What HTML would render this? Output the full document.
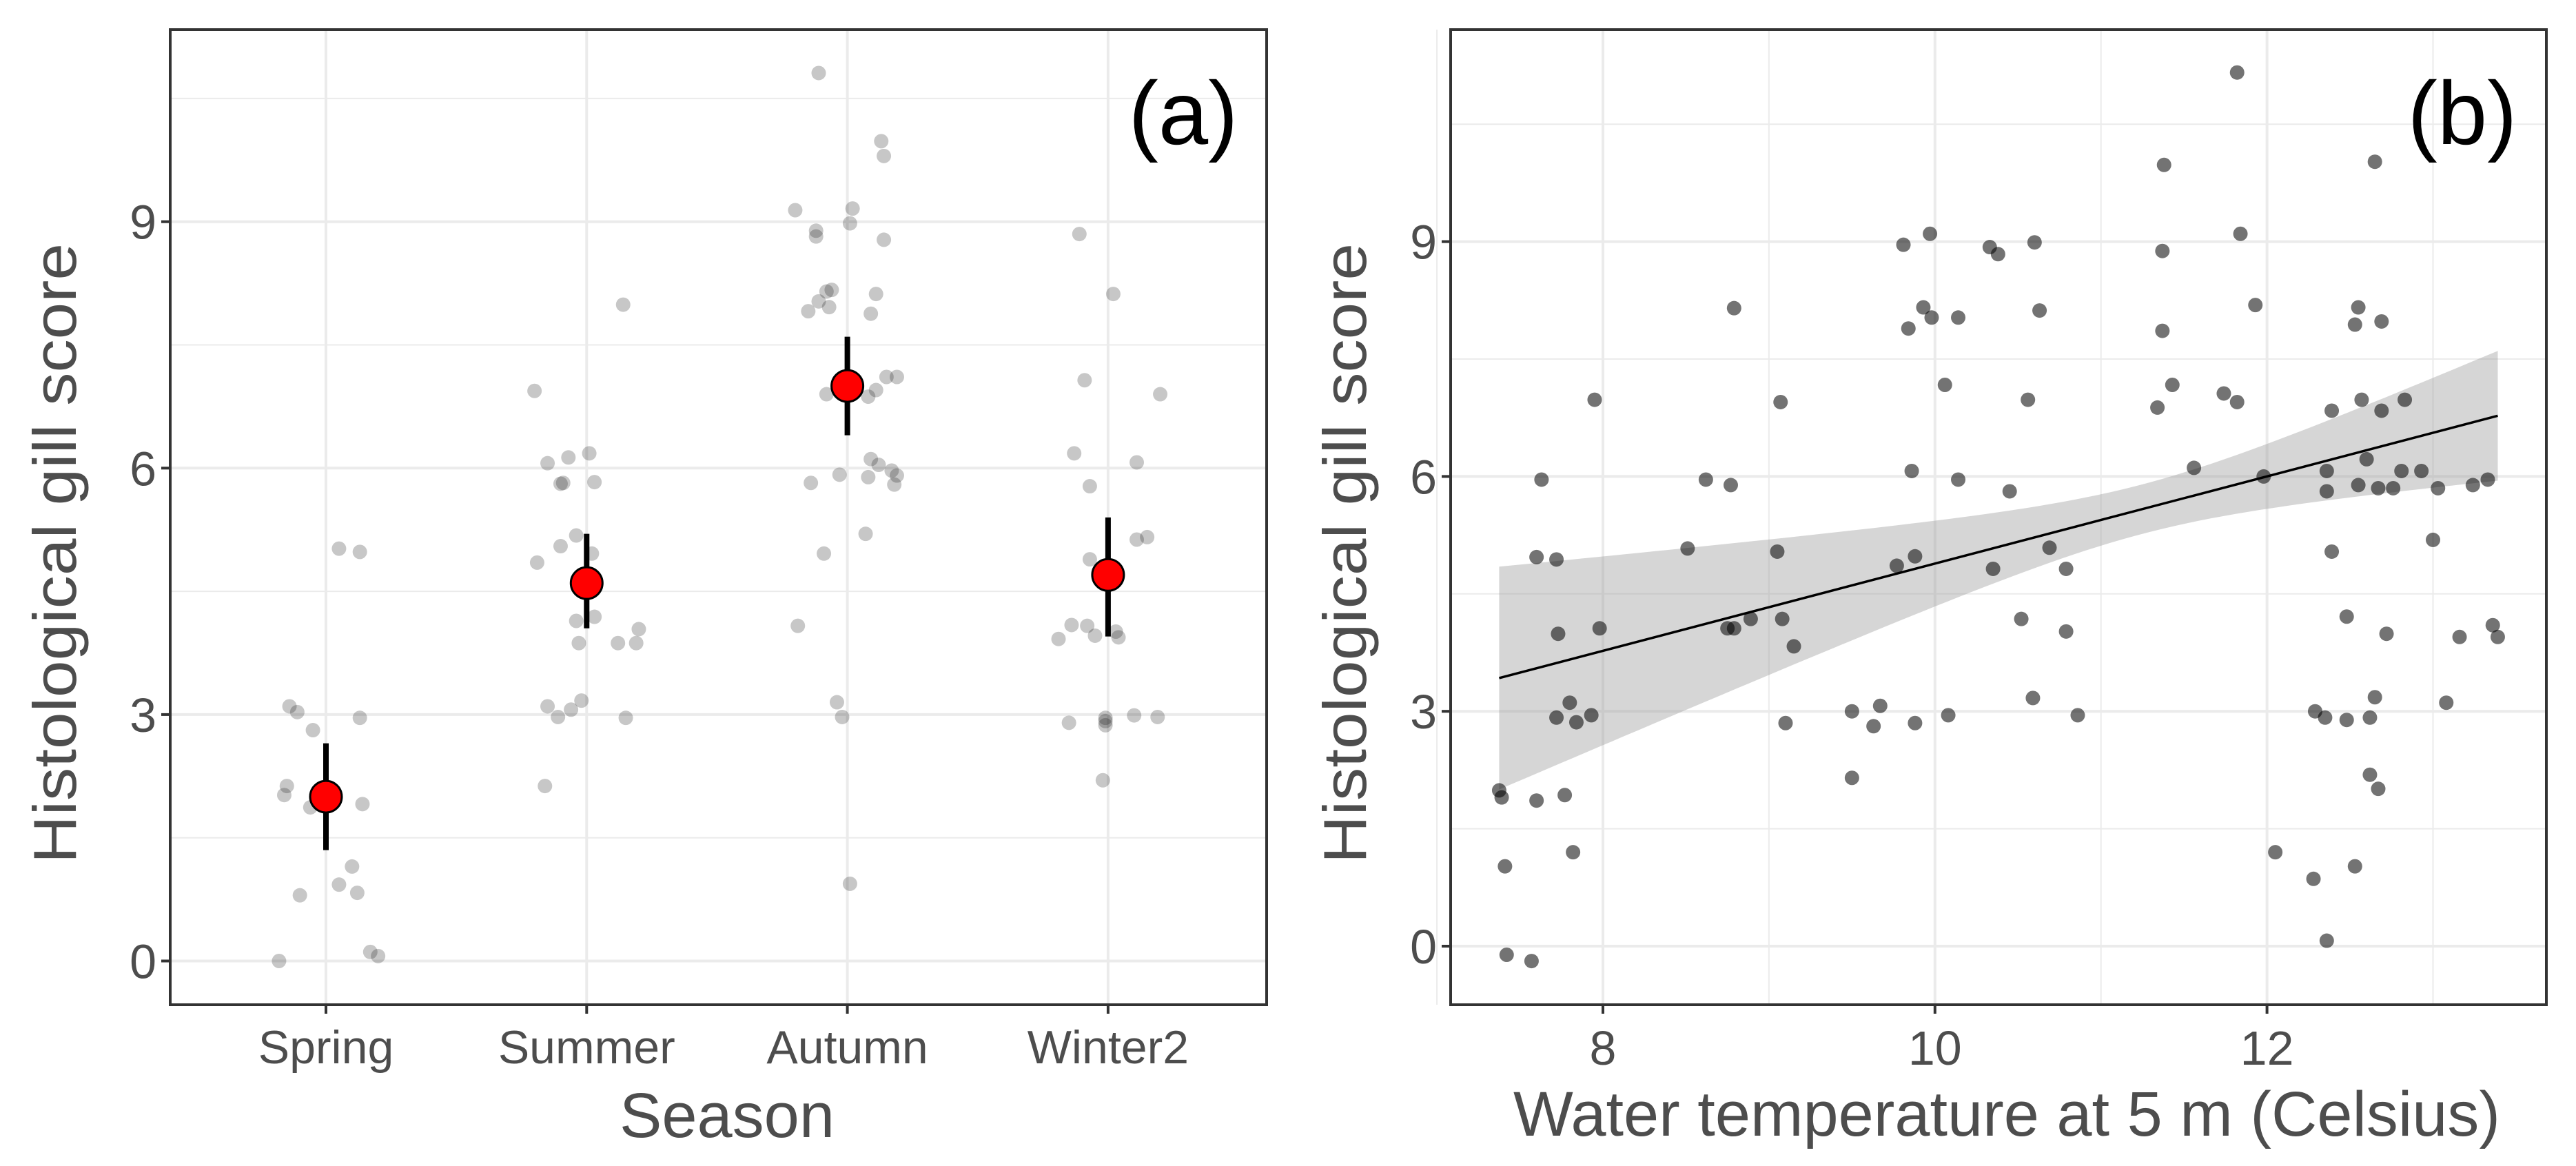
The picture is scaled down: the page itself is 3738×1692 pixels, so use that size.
<!DOCTYPE html>
<html><head><meta charset="utf-8"><title>Gill score charts</title>
<style>
html,body{margin:0;padding:0;background:#fff;}
svg{display:block;}
text{font-family:"Liberation Sans",sans-serif;}
</style></head>
<body>
<svg id="chart" width="3738" height="1692" viewBox="0 0 3738 1692" xmlns="http://www.w3.org/2000/svg">
  <rect width="3738" height="1692" fill="#fff"/>
  <g id="panelA"></g>
  <g id="panelB"></g>
</svg>
<script>
// ---------- Panel A data ----------
const seasons = ["Spring","Summer","Autumn","Winter2"];
const seasonMeans = [2.0, 4.6, 7.0, 4.7];
const seasonLower = [1.35, 4.05, 6.4, 3.95];
const seasonUpper = [2.65, 5.2, 7.6, 5.4];
const aTicks = [0,3,6,9];
const aMinor = [1.5,4.5,7.5,10.5];
// raw points: season index, jitter (category units), score
const ptSeason = [0,0,0,0,0,0,0,0,0,0,0,0,0,0,0,0,0,
 1,1,1,1,1,1,1,1,1,1,1,1,1,1,1,1,1,1,1,1,1,1,1,1,
 2,2,2,2,2,2,2,2,2,2,2,2,2,2,2,2,2,2,2,2,2,2,2,2,2,2,2,2,2,2,2,2,2,2,2,
 3,3,3,3,3,3,3,3,3,3,3,3,3,3,3,3,3,3,3,3,3,3,3];
const ptJitter = [-0.18,0.05,0.13,-0.14,-0.11,-0.05,0.13,-0.15,-0.16,-0.06,0.14,0.10,0.05,0.12,-0.10,0.17,0.20,
 -0.2,-0.15,-0.07,0.01,-0.10,-0.09,0.03,-0.04,-0.10,-0.19,0.02,-0.04,0.03,-0.03,0.12,0.19,0.20,-0.15,-0.11,-0.06,-0.02,0.15,-0.16,0.14,
 -0.11,0.13,0.14,-0.2,-0.12,-0.12,0.02,0.01,0.14,-0.06,-0.08,-0.11,-0.15,-0.07,0.11,0.09,0.15,0.19,-0.08,0.11,0.08,0.09,0.12,0.17,0.19,0.18,-0.03,0.08,-0.14,0.07,-0.09,-0.19,-0.04,-0.02,0.01,
 -0.11,0.02,-0.09,0.2,-0.13,0.11,-0.07,0.11,0.15,-0.07,-0.19,-0.14,-0.08,-0.05,0.03,0.04,-0.15,-0.01,-0.01,-0.01,0.10,0.19,-0.02];
const ptScore = [0,5.02,4.98,3.1,3.03,2.81,2.96,2.13,2.02,1.87,1.91,1.15,0.93,0.83,0.8,0.11,0.06,
 6.94,6.06,6.13,6.18,5.81,5.82,5.83,5.18,5.05,4.85,4.96,4.14,4.19,3.87,3.87,3.87,4.04,3.1,2.97,3.06,3.17,2.96,2.13,7.99,
 10.81,9.98,9.8,9.14,8.89,8.82,9.16,8.98,8.78,8.17,8.15,8.03,7.91,7.96,8.12,7.88,7.11,7.11,6.9,6.95,6.87,6.11,6.04,5.97,5.91,5.8,5.92,5.89,5.82,5.2,4.96,4.08,3.15,2.97,0.94,
 8.85,8.12,7.07,6.9,6.18,6.07,5.78,5.13,5.16,4.89,3.92,4.09,4.08,3.96,4.01,3.94,2.9,2.96,2.87,2.92,2.99,2.97,2.2];

// ---------- Panel B data ----------
const tempX = [7.375,7.39,7.41,7.42,7.57,7.60,7.60,7.63,7.72,7.73,7.72,7.80,7.84,7.77,7.82,7.93,7.95,7.98,
 8.51,8.62,8.77,8.79,8.75,8.79,8.89,9.05,9.07,9.08,9.10,9.15,9.50,9.50,9.63,9.67,9.77,9.81,9.84,9.86,9.88,9.88,
 9.93,9.97,9.98,10.06,10.08,10.14,10.14,10.33,10.38,10.35,10.45,10.52,10.56,10.59,10.60,10.63,10.69,10.79,10.79,10.86,
 11.34,11.37,11.37,11.38,11.43,11.56,11.74,11.82,11.82,11.84,11.93,11.98,12.05,12.28,12.29,12.35,12.36,12.36,12.36,
 12.39,12.39,12.48,12.48,12.53,12.53,12.55,12.55,12.57,12.60,12.62,12.62,12.65,12.65,12.67,12.67,12.69,12.69,12.72,
 12.76,12.81,12.83,12.93,13.00,13.03,13.08,13.16,13.24,13.33,13.36,13.39];
const gillY = [1.99,1.90,1.02,-0.11,-0.19,1.86,4.97,5.96,4.94,3.99,2.92,3.11,2.86,1.93,1.20,2.95,6.98,4.06,
 5.08,5.96,5.89,8.15,4.06,4.06,4.18,5.04,6.95,4.18,2.85,3.83,3.00,2.15,2.81,3.07,4.86,8.96,7.89,6.07,4.98,2.85,
 8.16,9.10,8.03,7.17,2.95,8.03,5.96,8.93,8.84,4.82,5.81,4.18,6.98,3.17,8.99,8.12,5.09,4.82,4.02,2.95,
 6.88,7.86,8.88,9.98,7.17,6.11,7.06,6.95,11.16,9.10,8.19,6.00,1.20,0.86,3.00,2.92,0.07,6.07,5.81,
 6.84,5.04,4.21,2.89,1.02,7.94,8.16,5.89,6.98,6.22,2.92,2.19,3.18,10.02,2.01,5.85,6.84,7.98,3.99,
 5.85,6.07,6.98,6.07,5.19,5.85,3.11,3.95,5.89,5.96,4.10,3.95];
const fitIntercept = [-0.683];
const fitSlope = [0.557];
const bandCenter = [11.25];   // x where CI is narrowest
const bandA = [0.316];        // half-width at centre
const bandB = [0.358];        // growth of half-width per unit x
const bXTicks = [8,10,12];
const bXMinor = [7,9,11,13];
const bYTicks = [0,3,6,9];
const bYMinor = [1.5,4.5,7.5,10.5];

// ---------- helpers ----------
const NS = "http://www.w3.org/2000/svg";
function mk(parent, tag, attrs){
  const el = document.createElementNS(NS, tag);
  for (const k in attrs) el.setAttribute(k, attrs[k]);
  parent.appendChild(el);
  return el;
}
const gridCol = "#ebebeb", tickCol = "#4d4d4d", axisCol = "#333333";

// ---------- Panel A ----------
(function(){
  const g = document.getElementById('panelA');
  const L=247, R=1838, T=43, B=1458;
  const y = v => 1394.5 - v*119.2;
  const x = i => 473 + i*378.3;
  aMinor.forEach(v=>{ const l=mk(g,'line',{x1:L,x2:R,y1:y(v),y2:y(v),stroke:gridCol,'stroke-width':2});
      });
  aTicks.forEach(v=>{ const l=mk(g,'line',{x1:L,x2:R,y1:y(v),y2:y(v),stroke:gridCol,'stroke-width':4});
      });
  seasons.forEach((s,i)=>{ const l=mk(g,'line',{x1:x(i),x2:x(i),y1:T,y2:B,stroke:gridCol,'stroke-width':4});
      });
  ptScore.forEach((v,k)=>{
    const c=mk(g,'circle',{cx:x(ptSeason[k]+ptJitter[k]),cy:y(v),r:10.5,fill:'#000','fill-opacity':0.22});
     
  });
  seasons.forEach((s,i)=>{
    const e=mk(g,'line',{x1:x(i),x2:x(i),y1:y(seasonLower[i]),y2:y(seasonUpper[i]),stroke:'#000','stroke-width':8});
     
    const m=mk(g,'circle',{cx:x(i),cy:y(seasonMeans[i]),r:23,fill:'#ff0000',stroke:'#000','stroke-width':3});
     
  });
  const fr=mk(g,'rect',{x:L,y:T,width:R-L,height:B-T,fill:'none',stroke:axisCol,'stroke-width':4});
   
  aTicks.forEach(v=>{
    const t=mk(g,'line',{x1:L-13,x2:L,y1:y(v),y2:y(v),stroke:axisCol,'stroke-width':4});
     
    const tx=mk(g,'text',{x:L-20,y:y(v)+25,'text-anchor':'end','font-size':70,fill:tickCol});
    tx.textContent=v;
     
  });
  seasons.forEach((s,i)=>{
    const t=mk(g,'line',{x1:x(i),x2:x(i),y1:B,y2:B+13,stroke:axisCol,'stroke-width':4});
     
    const tx=mk(g,'text',{x:x(i),y:1543,'text-anchor':'middle','font-size':68,fill:tickCol});
    tx.textContent=s;
     
  });
  const xt=mk(g,'text',{x:1055,y:1650,'text-anchor':'middle','font-size':92,fill:tickCol});
  xt.textContent='Season';
   
  const yt=mk(g,'text',{x:0,y:0,'text-anchor':'middle','font-size':88,fill:tickCol,transform:'translate(110,803) rotate(-90)',textLength:900,lengthAdjust:'spacingAndGlyphs'});
  yt.textContent='Histological gill score';
   
  const pl=mk(g,'text',{x:1717,y:209,'text-anchor':'middle','font-size':130,fill:'#000'});
  pl.textContent='(a)';
   
})();

// ---------- Panel B ----------
(function(){
  const g = document.getElementById('panelB');
  const L=2105, R=3695, T=43, B=1458;
  const x = v => 2326 + (v-8)*240.9;
  const y = v => 1373 - v*113.6;
  bYMinor.forEach(v=>{ const l=mk(g,'line',{x1:L,x2:R,y1:y(v),y2:y(v),stroke:gridCol,'stroke-width':2});
      });
  bXMinor.forEach(v=>{ const l=mk(g,'line',{x1:x(v),x2:x(v),y1:T,y2:B,stroke:gridCol,'stroke-width':2});
      });
  bYTicks.forEach(v=>{ const l=mk(g,'line',{x1:L,x2:R,y1:y(v),y2:y(v),stroke:gridCol,'stroke-width':4});
      });
  bXTicks.forEach(v=>{ const l=mk(g,'line',{x1:x(v),x2:x(v),y1:T,y2:B,stroke:gridCol,'stroke-width':4});
      });
  // fit & band
  const xmin=Math.min(...tempX), xmax=Math.max(...tempX);
  const xs=[]; for(let i=0;i<=80;i++) xs.push(xmin+(xmax-xmin)*i/80);
  const fit = v => fitIntercept[0]+fitSlope[0]*v;
  const half = v => Math.sqrt(bandA[0]*bandA[0]+bandB[0]*bandB[0]*(v-bandCenter[0])*(v-bandCenter[0]));
  let d='';
  xs.forEach((v,i)=>{ d+=(i?'L':'M')+x(v).toFixed(1)+','+y(fit(v)+half(v)).toFixed(1); });
  xs.slice().reverse().forEach(v=>{ d+='L'+x(v).toFixed(1)+','+y(fit(v)-half(v)).toFixed(1); });
  d+='Z';
  const band=mk(g,'path',{d:d,fill:'#999999','fill-opacity':0.4});
   
  tempX.forEach((v,k)=>{
    const c=mk(g,'circle',{cx:x(v),cy:y(gillY[k]),r:10.5,fill:'#000','fill-opacity':0.55});
     
  });
  const ln=mk(g,'line',{x1:x(xmin),y1:y(fit(xmin)),x2:x(xmax),y2:y(fit(xmax)),stroke:'#000','stroke-width':3.5});
   
  const fr=mk(g,'rect',{x:L,y:T,width:R-L,height:B-T,fill:'none',stroke:axisCol,'stroke-width':4});
   
  bYTicks.forEach(v=>{
    const t=mk(g,'line',{x1:L-13,x2:L,y1:y(v),y2:y(v),stroke:axisCol,'stroke-width':4});
     
    const tx=mk(g,'text',{x:L-20,y:y(v)+25,'text-anchor':'end','font-size':70,fill:tickCol});
    tx.textContent=v;
     
  });
  bXTicks.forEach(v=>{
    const t=mk(g,'line',{x1:x(v),x2:x(v),y1:B,y2:B+13,stroke:axisCol,'stroke-width':4});
     
    const tx=mk(g,'text',{x:x(v),y:1545,'text-anchor':'middle','font-size':70,fill:tickCol});
    tx.textContent=v;
     
  });
  const xt=mk(g,'text',{x:2912,y:1648,'text-anchor':'middle','font-size':92,fill:tickCol,textLength:1432,lengthAdjust:'spacingAndGlyphs'});
  xt.textContent='Water temperature at 5 m (Celsius)';
   
  const yt=mk(g,'text',{x:0,y:0,'text-anchor':'middle','font-size':88,fill:tickCol,transform:'translate(1982,803) rotate(-90)',textLength:900,lengthAdjust:'spacingAndGlyphs'});
  yt.textContent='Histological gill score';
   
  const pl=mk(g,'text',{x:3573,y:209,'text-anchor':'middle','font-size':130,fill:'#000'});
  pl.textContent='(b)';
   
})();
</script>
</body></html>
